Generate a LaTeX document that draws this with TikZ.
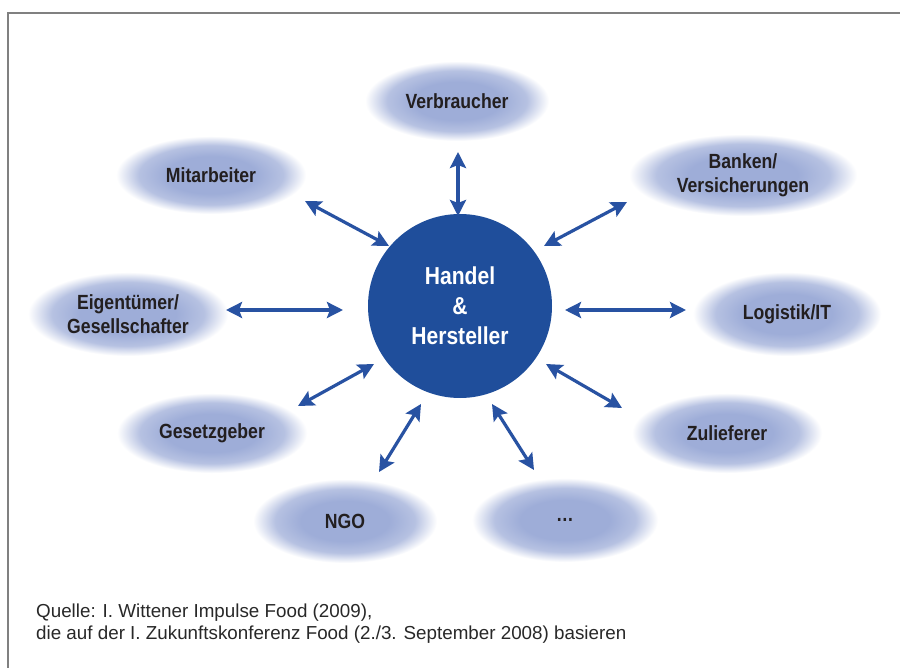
\documentclass[tikz,border=0pt]{standalone}
\usepackage{fontspec}
\setmainfont{Liberation Sans}
\newfontfamily\labfont[FakeStretch=0.86]{Liberation Sans}
\usetikzlibrary{shapes.geometric,arrows.meta}
\definecolor{ellc}{RGB}{158,173,216}
\definecolor{hubblue}{RGB}{31,78,155}
\definecolor{arrblue}{RGB}{40,82,162}
\definecolor{labtext}{RGB}{35,31,32}
\definecolor{framegray}{RGB}{128,128,128}
\definecolor{srctext}{RGB}{40,40,40}
\pgfdeclareradialshading{fuzzy}{\pgfpointorigin}{color(0bp)=(ellc);color(12bp)=(ellc);color(19bp)=(ellc!75!white);color(25bp)=(white);color(50bp)=(white)}
\tikzset{
  cloud/.style={ellipse, shading=fuzzy, draw=none, inner sep=0pt, align=center,
    minimum width=188pt, minimum height=80pt, text=labtext,
    font=\labfont\bfseries\fontsize{20.5}{23.5}\selectfont},
  hubnode/.style={circle, fill=hubblue, draw=none, minimum size=184pt, inner sep=0pt,
    text=white, align=center, font=\labfont\bfseries\fontsize{24.5}{30}\selectfont},
  biarrow/.style={draw=arrblue, line width=3.2pt,
    {Stealth[length=16pt,width=16pt,inset=3pt]}-{Stealth[length=16pt,width=16pt,inset=3pt]}},
  frameline/.style={draw=framegray, line width=2pt},
  srcnote/.style={anchor=base west, align=left, text=srctext, inner sep=0pt,
    font=\fontsize{18.8}{22}\selectfont}
}
\begin{document}
\begin{tikzpicture}[x=1pt,y=-1pt]
\useasboundingbox (0,0) rectangle (900,668);
\fill[white] (0,0) rectangle (900,668);
% frame
\coordinate (fb) at (8,668);
\coordinate (fc) at (8,13);
\coordinate (fr) at (900,13);
\draw[frameline] (fb) -- (fc) -- (fr);

% outer nodes
\node[cloud, minimum width=184pt, minimum height=80pt] (verb) at (457,101) {Verbraucher};
\node[cloud, minimum width=190pt, minimum height=78pt] (mita) at (211,175) {Mitarbeiter};
\node[cloud, minimum width=228pt, minimum height=82pt] (bank) at (743,175) {Banken/\\Versicherungen};
\node[cloud, minimum width=200pt, minimum height=84pt] (eign) at (128,314) {Eigentümer/\\Gesellschafter};
\node[cloud, minimum width=188pt, minimum height=84pt] (logi) at (787,314) {Logistik/IT};
\node[cloud, minimum width=190pt, minimum height=80pt] (gese) at (212,433) {Gesetzgeber};
\node[cloud, minimum width=190pt, minimum height=80pt] (zuli) at (727,433) {Zulieferer};
\node[cloud, minimum width=184pt, minimum height=84pt] (ngo) at (345,521) {NGO};
\node[cloud, minimum width=186pt, minimum height=84pt] (etc) at (565,520) {\ldots};

% hub
\node[hubnode] (hub) at (460,306) {Handel\\\&\\Hersteller};

% arrow ends
\coordinate (v1) at (458,152);  \coordinate (v2) at (458,216);
\coordinate (m1) at (305,201);  \coordinate (m2) at (389,246);
\coordinate (b1) at (544,246);  \coordinate (b2) at (627,202);
\coordinate (e1) at (226,310);  \coordinate (e2) at (343,310);
\coordinate (l1) at (565,310);  \coordinate (l2) at (686,310);
\coordinate (g1) at (298,406);  \coordinate (g2) at (374,364);
\coordinate (z1) at (546,364);  \coordinate (z2) at (622,408);
\coordinate (n1) at (421,404);  \coordinate (n2) at (379,472);
\coordinate (d1) at (492,404);  \coordinate (d2) at (534,470);

\draw[biarrow] (v1) -- (v2);
\draw[biarrow] (m1) -- (m2);
\draw[biarrow] (b1) -- (b2);
\draw[biarrow] (e1) -- (e2);
\draw[biarrow] (l1) -- (l2);
\draw[biarrow] (g1) -- (g2);
\draw[biarrow] (z1) -- (z2);
\draw[biarrow] (n1) -- (n2);
\draw[biarrow] (d1) -- (d2);

% source note (base anchor = last line)
\node[srcnote] (src) at (36,639) {Quelle: I. Wittener Impulse Food (2009),\\die auf der I. Zukunftskonferenz Food (2./3. September 2008) basieren};
\end{tikzpicture}
\end{document}
